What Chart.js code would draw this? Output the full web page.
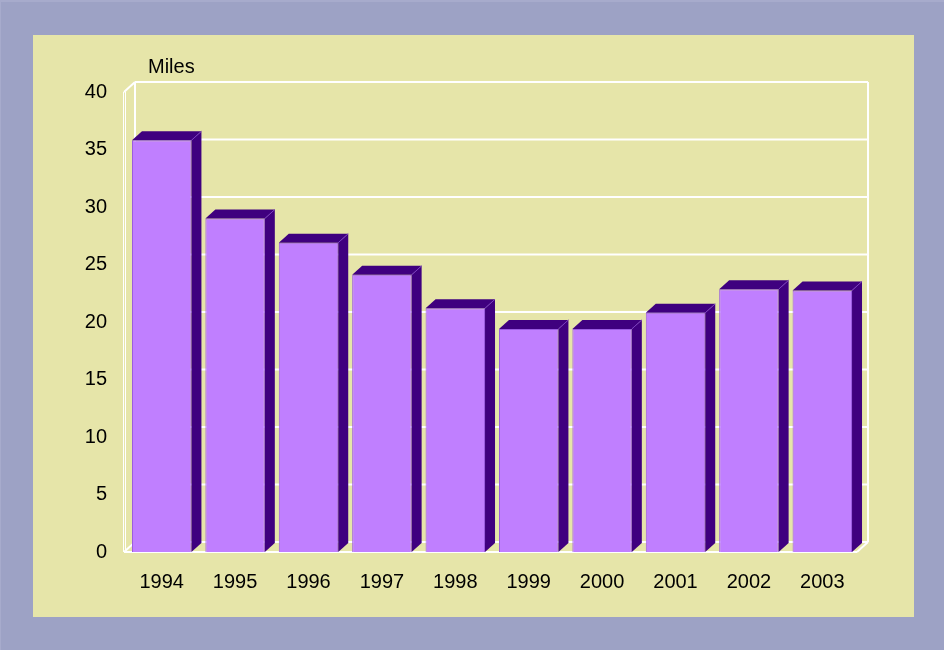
<!DOCTYPE html>
<html>
<head>
<meta charset="utf-8">
<script src="https://cdn.jsdelivr.net/npm/chart.js@4/dist/chart.umd.min.js"></script>
<style>
  html, body { margin: 0; padding: 0; background: #9da2c5; }
  canvas { display: block; }
</style>
</head>
<body>
<canvas id="c" width="944" height="650"></canvas>
<script>
const categories = ['1994','1995','1996','1997','1998','1999','2000','2001','2002','2003'];
const miles = [35.8, 29.0, 26.9, 24.1, 21.2, 19.4, 19.4, 20.8, 22.85, 22.75];
const yTicks = [0, 5, 10, 15, 20, 25, 30, 35, 40];
const unitLabel = 'Miles';

const FONT = '"Liberation Sans", Arial, sans-serif';
const OUTER = '#9da2c5';
const PANEL = '#e6e5a9';
const FRONT = '#c07fff';
const DARK = '#3f007f';

const WALL_DX = 11, WALL_DY = 10;   // depth of the back wall
const BAR_DX = 10, BAR_DY = 9;      // depth of each bar

const framePlugin = {
  id: 'frame',
  beforeDraw(chart) {
    const ctx = chart.ctx;
    ctx.save();
    ctx.fillStyle = OUTER;
    ctx.fillRect(0, 0, chart.width, chart.height);
    ctx.fillStyle = '#a7abcc';
    ctx.fillRect(0, 0, chart.width, 2);
    ctx.fillRect(0, 0, 1, chart.height);
    ctx.fillStyle = PANEL;
    ctx.fillRect(33, 35, 881, 582);
    // unit label
    ctx.fillStyle = '#000';
    ctx.font = '20px ' + FONT;
    ctx.textAlign = 'left';
    ctx.textBaseline = 'middle';
    ctx.fillText(unitLabel, 148, 67);
    ctx.restore();
  },
  beforeDatasetsDraw(chart) {
    const ctx = chart.ctx;
    const a = chart.chartArea;
    const ys = chart.scales.y;
    const fl = a.left - 1, fr = a.right - 2;      // front edges
    const bl = fl + WALL_DX, br = fr + WALL_DX;   // back edges
    const fTop = ys.getPixelForValue(40), fBot = ys.getPixelForValue(0);
    ctx.save();
    ctx.strokeStyle = '#ffffff';
    ctx.lineWidth = 2;
    // back wall horizontal gridlines
    yTicks.forEach(v => {
      const y = ys.getPixelForValue(v) - WALL_DY;
      ctx.beginPath();
      ctx.moveTo(bl, y);
      ctx.lineTo(br, y);
      ctx.stroke();
    });
    ctx.beginPath();
    // back verticals
    ctx.moveTo(bl, fTop - WALL_DY); ctx.lineTo(bl, fBot - WALL_DY);
    ctx.moveTo(br, fTop - WALL_DY); ctx.lineTo(br, fBot - WALL_DY);
    // top-left diagonal
    ctx.moveTo(fl, fTop); ctx.lineTo(bl, fTop - WALL_DY);
    // floor front line and diagonals
    ctx.moveTo(fl, fBot); ctx.lineTo(fr, fBot);
    ctx.moveTo(fl, fBot); ctx.lineTo(bl, fBot - WALL_DY);
    ctx.moveTo(fr, fBot); ctx.lineTo(br, fBot - WALL_DY);
    ctx.stroke();
    // front left axis (double thin line)
    ctx.lineWidth = 1;
    ctx.beginPath();
    ctx.moveTo(fl - 0.5, fTop); ctx.lineTo(fl - 0.5, fBot);
    ctx.moveTo(fl + 1.5, fTop); ctx.lineTo(fl + 1.5, fBot);
    ctx.stroke();
    ctx.restore();
  },
  afterDatasetsDraw(chart) {
    const ctx = chart.ctx;
    const meta = chart.getDatasetMeta(0);
    ctx.save();
    meta.data.forEach(bar => {
      const p = bar.getProps(['x', 'y', 'base', 'width'], true);
      const l = p.x - p.width / 2, r = p.x + p.width / 2;
      const t = p.y, b = p.base;
      ctx.fillStyle = DARK;
      // top face
      ctx.beginPath();
      ctx.moveTo(l, t);
      ctx.lineTo(l + BAR_DX, t - BAR_DY);
      ctx.lineTo(r + BAR_DX, t - BAR_DY);
      ctx.lineTo(r, t);
      ctx.closePath();
      ctx.fill();
      // side face
      ctx.beginPath();
      ctx.moveTo(r, t);
      ctx.lineTo(r + BAR_DX, t - BAR_DY);
      ctx.lineTo(r + BAR_DX, b - BAR_DY);
      ctx.lineTo(r, b);
      ctx.closePath();
      ctx.fill();
      // edge highlight
      ctx.strokeStyle = '#7a3fc0';
      ctx.lineWidth = 1;
      ctx.beginPath();
      ctx.moveTo(r, t);
      ctx.lineTo(r + BAR_DX, t - BAR_DY);
      ctx.stroke();
    });
    ctx.restore();
  }
};

new Chart(document.getElementById('c'), {
  type: 'bar',
  data: {
    labels: categories,
    datasets: [{
      data: miles,
      backgroundColor: FRONT,
      borderColor: '#9a5ce0',
      borderWidth: 1,
      categoryPercentage: 1,
      barPercentage: 0.81
    }]
  },
  options: {
    responsive: false,
    animation: false,
    devicePixelRatio: 1,
    layout: { padding: { top: 92, right: 85, bottom: 0, left: 0 } },
    plugins: { legend: { display: false }, tooltip: { enabled: false } },
    scales: {
      x: {
        grid: { display: false },
        border: { display: false },
        ticks: { color: '#000', font: { family: FONT, size: 20 }, padding: 10 },
        afterFit(s) { s.height = 98; }
      },
      y: {
        min: 0,
        max: 40,
        grid: { display: false },
        border: { display: false },
        afterBuildTicks(s) { s.ticks = yTicks.map(v => ({ value: v })); },
        ticks: { color: '#000', font: { family: FONT, size: 20 }, padding: 10 },
        afterFit(s) { s.width = 125; }
      }
    }
  },
  plugins: [framePlugin]
});
</script>
</body>
</html>
